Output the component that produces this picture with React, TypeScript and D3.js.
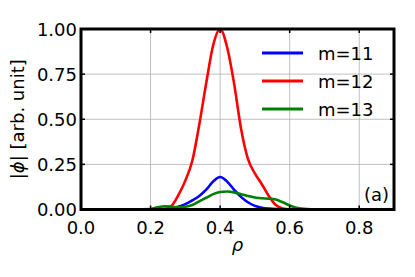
import React, { useEffect, useRef } from "react";
import * as d3 from "d3";

// radial grid for all three harmonics
const rho = [0.0, 0.1, 0.2, 0.22, 0.24, 0.26, 0.28, 0.3, 0.32, 0.34, 0.36, 0.38, 0.4, 0.42, 0.44, 0.46, 0.48, 0.5, 0.52, 0.54, 0.56, 0.58, 0.6, 0.62, 0.65, 0.7, 0.8, 0.9];

const m11 = [0, 0, 0, 0, 0.002, 0.006, 0.015, 0.03, 0.05, 0.075, 0.11, 0.155, 0.18, 0.155, 0.11, 0.07, 0.04, 0.02, 0.01, 0.005, 0.002, 0.001, 0, 0, 0, 0, 0, 0];
const m12 = [0, 0, 0, 0, 0.002, 0.02, 0.08, 0.16, 0.27, 0.47, 0.7, 0.91, 1.0, 0.9, 0.7, 0.45, 0.28, 0.2, 0.14, 0.075, 0.025, 0.006, 0.001, 0, 0, 0, 0, 0];
const m13 = [0, 0, 0.003, 0.012, 0.018, 0.016, 0.012, 0.015, 0.025, 0.045, 0.065, 0.085, 0.097, 0.1, 0.095, 0.085, 0.075, 0.067, 0.062, 0.06, 0.055, 0.04, 0.022, 0.01, 0.003, 0, 0, 0];

const series = [
  { name: "m=11", color: "#0000ff", values: m11 },
  { name: "m=12", color: "#ff0000", values: m12 },
  { name: "m=13", color: "#008000", values: m13 },
];

const xTicks = [0.0, 0.2, 0.4, 0.6, 0.8];
const yTicks = [0.0, 0.25, 0.5, 0.75, 1.0];

const App = () => {
  const ref = useRef<SVGSVGElement>(null);

  useEffect(() => {
    const width = 415,
      height = 277;
    const margin = { top: 29, right: 21, bottom: 67.5, left: 81 };

    const svg = d3.select(ref.current);
    svg.selectAll("*").remove();

    const x = d3.scaleLinear().domain([0, 0.9]).range([margin.left, width - margin.right]);
    const y = d3.scaleLinear().domain([0, 1]).range([height - margin.bottom, margin.top]);
    const font = "DejaVu Sans, sans-serif";

    // grid
    const grid = svg.append("g").attr("stroke", "#b0b0b0").attr("stroke-width", 0.8);
    xTicks.forEach((t) => {
      grid.append("line").attr("x1", x(t)).attr("x2", x(t)).attr("y1", y(0)).attr("y2", y(1));
    });
    yTicks.forEach((t) => {
      grid.append("line").attr("x1", x(0)).attr("x2", x(0.9)).attr("y1", y(t)).attr("y2", y(t));
    });

    // curves
    const line = d3
      .line<number>()
      .x((_, i) => x(rho[i]))
      .y((d) => y(d))
      .curve(d3.curveMonotoneX);

    series.forEach((s) => {
      svg
        .append("path")
        .datum(s.values)
        .attr("fill", "none")
        .attr("stroke", s.color)
        .attr("stroke-width", 2.6)
        .attr("stroke-linejoin", "round")
        .attr("d", line);
    });

    // frame
    svg
      .append("rect")
      .attr("x", x(0))
      .attr("y", y(1))
      .attr("width", x(0.9) - x(0))
      .attr("height", y(0) - y(1))
      .attr("fill", "none")
      .attr("stroke", "black")
      .attr("stroke-width", 3);

    // inward ticks on all sides
    const ticks = svg.append("g").attr("stroke", "black").attr("stroke-width", 1.5);
    xTicks.forEach((t) => {
      ticks.append("line").attr("x1", x(t)).attr("x2", x(t)).attr("y1", y(0)).attr("y2", y(0) - 4);
      ticks.append("line").attr("x1", x(t)).attr("x2", x(t)).attr("y1", y(1)).attr("y2", y(1) + 4);
    });
    yTicks.forEach((t) => {
      ticks.append("line").attr("x1", x(0)).attr("x2", x(0) + 4).attr("y1", y(t)).attr("y2", y(t));
      ticks.append("line").attr("x1", x(0.9)).attr("x2", x(0.9) - 4).attr("y1", y(t)).attr("y2", y(t));
    });

    // tick labels
    svg
      .append("g")
      .selectAll("text")
      .data(xTicks)
      .join("text")
      .attr("x", (d) => x(d))
      .attr("y", y(0) + 24.5)
      .attr("text-anchor", "middle")
      .attr("font-family", font)
      .attr("font-size", 18)
      .text((d) => d3.format(".1f")(d));

    svg
      .append("g")
      .selectAll("text")
      .data(yTicks)
      .join("text")
      .attr("x", x(0) - 4)
      .attr("y", (d) => y(d) + 6.5)
      .attr("text-anchor", "end")
      .attr("font-family", font)
      .attr("font-size", 18)
      .text((d) => d3.format(".2f")(d));

    // axis labels
    svg
      .append("text")
      .attr("x", (x(0) + x(0.9)) / 2)
      .attr("y", y(0) + 41.5)
      .attr("text-anchor", "middle")
      .attr("font-family", font)
      .attr("font-style", "italic")
      .attr("font-size", 18)
      .text("ρ");

    const yl = svg
      .append("text")
      .attr("transform", `translate(24,${(y(0) + y(1)) / 2}) rotate(-90)`)
      .attr("text-anchor", "middle")
      .attr("font-family", font)
      .attr("font-size", 18);
    yl.append("tspan").text("|");
    yl.append("tspan").attr("font-style", "italic").text("ϕ");
    yl.append("tspan").text("| [arb. unit]");

    // legend
    const legend = svg.append("g");
    series.forEach((s, i) => {
      const ly = 53 + i * 28;
      legend
        .append("line")
        .attr("x1", 262)
        .attr("x2", 303)
        .attr("y1", ly)
        .attr("y2", ly)
        .attr("stroke", s.color)
        .attr("stroke-width", 3);
      legend
        .append("text")
        .attr("x", 318)
        .attr("y", ly + 6.5)
        .attr("font-family", font)
        .attr("font-size", 18)
        .text(s.name);
    });

    // panel tag
    svg
      .append("text")
      .attr("x", 389)
      .attr("y", 201)
      .attr("text-anchor", "end")
      .attr("font-family", font)
      .attr("font-size", 18)
      .text("(a)");
  }, []);

  return (
    <svg
      ref={ref}
      width={415}
      height={277}
      style={{ position: "absolute", left: 0, top: 0, background: "white" }}
    />
  );
};

export default App;
